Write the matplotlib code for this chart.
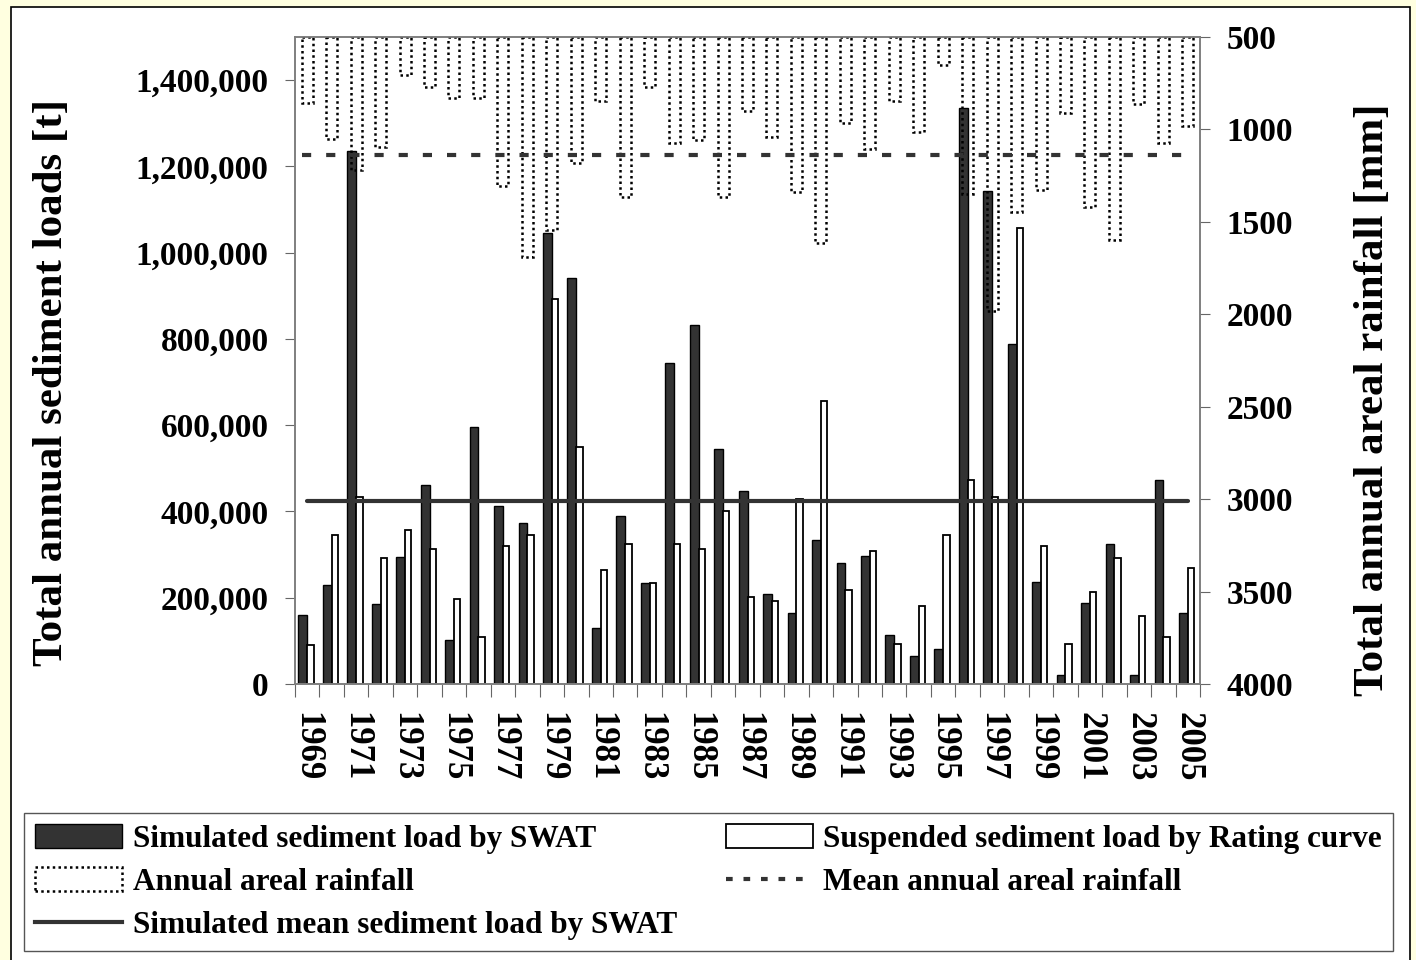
import numpy as np
import matplotlib
matplotlib.use('Agg')
from matplotlib import pyplot as plt
from matplotlib.patches import Rectangle, Patch
from matplotlib.lines import Line2D
from matplotlib.ticker import FuncFormatter

plt.rcParams['font.family'] = 'Liberation Serif'
plt.rcParams['font.weight'] = 'bold'

years = list(range(1969, 2006))
swat_load = [160000, 230000, 1235000, 185000, 295000, 462000, 102000, 595000, 412000, 373000,
             1046000, 942000, 130000, 390000, 235000, 745000, 833000, 545000, 447000, 208000,
             164000, 335000, 280000, 297000, 114000, 65000, 82000, 1336000, 1144000, 789000,
             236000, 21000, 187000, 324000, 21000, 473000, 164000]
rating_load = [90000, 346000, 434000, 291000, 357000, 313000, 197000, 108000, 320000, 346000,
               892000, 550000, 264000, 324000, 235000, 324000, 313000, 401000, 202000, 192000,
               430000, 655000, 219000, 308000, 92000, 181000, 346000, 473000, 434000, 1058000,
               319000, 92000, 213000, 291000, 158000, 109000, 268000]
rainfall = [859, 1052, 1219, 1093, 706, 769, 828, 831, 1306, 1688,
            1544, 1183, 846, 1367, 769, 1075, 1057, 1364, 900, 1039,
            1340, 1616, 967, 1106, 846, 1012, 651, 1351, 1982, 1448,
            1327, 913, 1418, 1598, 862, 1075, 980]
mean_swat_load = 424000
mean_rainfall = 1140

W, H = 1416, 960
fig = plt.figure(figsize=(W / 100, H / 100), dpi=100, facecolor='#FFFFE0')
fig.add_artist(Rectangle((11 / W, -0.01), (1410 - 11) / W, 1 - 7 / H + 0.01,
                         transform=fig.transFigure, facecolor='white',
                         edgecolor='black', lw=1.2, zorder=-5))

ax = fig.add_axes([295 / W, 1 - 684 / H, 905 / W, 647 / H])
x = np.arange(len(years))

ax.bar(x - 0.36, swat_load, width=0.36, align='edge', color='#333333',
       edgecolor='black', lw=1, zorder=2)
ax.bar(x, rating_load, width=0.26, align='edge', color='white',
       edgecolor='black', lw=1.3, zorder=2)
ax.plot([x[0], x[-1]], [mean_swat_load, mean_swat_load], color='#333333',
        lw=3, solid_capstyle='round', zorder=3)

ax.set_xlim(-0.5, len(years) - 0.5)
ax.set_ylim(0, 1500000)
ax.set_yticks(range(0, 1400001, 200000))
ax.yaxis.set_major_formatter(FuncFormatter(lambda v, p: f"{int(v):,}"))
ax.tick_params(axis='y', length=7, color='#666666', labelsize=24, pad=12)

ax.set_xticks(np.arange(-0.5, len(years), 1))
ax.set_xticklabels([])
ax.tick_params(axis='x', which='major', length=9, color='#666666')
ax.set_xticks(x[::2], minor=True)
ax.set_xticklabels([str(y) for y in years[::2]], minor=True, rotation=-90, fontsize=25)
ax.tick_params(axis='x', which='minor', length=0, pad=20)

ax2 = ax.twinx()
ax2.bar(x, np.array(rainfall) - 500, bottom=500, width=0.45, fill=False,
        edgecolor='black', lw=1.8, linestyle=(0, (1, 1.3)), zorder=2)
ax2.plot([x[0] - 0.2, x[-1] + 0.1], [mean_rainfall, mean_rainfall], color='#333333',
         lw=3, dashes=(2.2, 3.6), zorder=3)
ax2.set_ylim(4000, 500)
ax2.set_yticks(range(500, 4001, 500))
ax2.tick_params(axis='y', length=7, color='#666666', labelsize=24, pad=12)
ax2.set_xlim(-0.5, len(years) - 0.5)

for a in (ax, ax2):
    for s in a.spines.values():
        s.set_color('#7f7f7f')
        s.set_linewidth(1.2)

fig.text(52 / W, 1 - 382 / H, 'Total annual sediment loads [t]', rotation=90,
         ha='center', va='center', fontsize=31)
fig.text(1373 / W, 1 - 400 / H, 'Total annual areal rainfall [mm]', rotation=90,
         ha='center', va='center', fontsize=31)

handles = [
    Patch(facecolor='#333333', edgecolor='black', lw=1),
    Patch(fill=False, edgecolor='black', lw=1.8, linestyle=(0, (1, 1.3))),
    Line2D([], [], color='#333333', lw=3),
    Patch(facecolor='white', edgecolor='black', lw=1.3),
    Line2D([], [], color='#333333', lw=3, dashes=(1.6, 2.6)),
]
labels = ['Simulated sediment load by SWAT', 'Annual areal rainfall',
          'Simulated mean sediment load by SWAT',
          'Suspended sediment load by Rating curve', 'Mean annual areal rainfall']
fig.legend(handles, labels, loc='upper left', ncol=2, mode='expand',
           bbox_to_anchor=(24 / W, 0, 1369 / W, 1 - 813 / H), borderaxespad=0,
           fontsize=22.5, handlelength=2.8, handleheight=0.8, handletextpad=0.33,
           labelspacing=0.43, borderpad=0.35, fancybox=False, framealpha=1,
           edgecolor='#555555')

fig.savefig('out.png', dpi=100, facecolor=fig.get_facecolor())
